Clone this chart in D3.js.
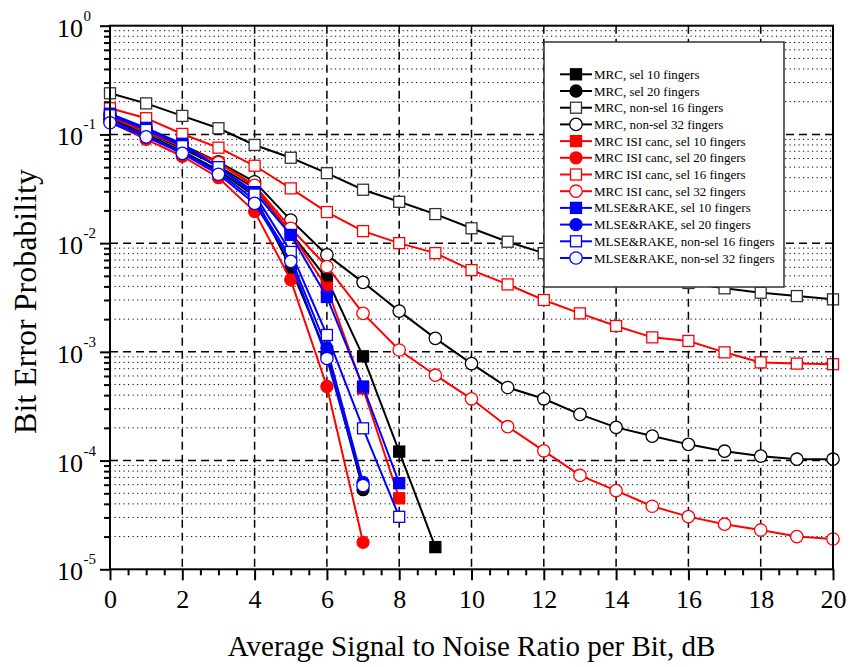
<!DOCTYPE html>
<html><head><meta charset="utf-8">
<script src="https://cdn.jsdelivr.net/npm/d3@7"></script>
<style>
body{margin:0;background:#fff;}
svg{display:block;font-family:"Liberation Serif","Times New Roman",serif;}
</style></head>
<body><svg id="chart" width="851" height="667"></svg>
<script>
// ---- data ----
const snr = [0,1,2,3,4,5,6,7,8,9,10,11,12,13,14,15,16,17,18,19,20];
const xTicks = [0,2,4,6,8,10,12,14,16,18,20];
const yTickExp = [0,-1,-2,-3,-4,-5];
const seriesNames = [
  "MRC, sel 10 fingers","MRC, sel 20 fingers","MRC, non-sel 16 fingers","MRC, non-sel 32 fingers",
  "MRC ISI canc, sel 10 fingers","MRC ISI canc, sel 20 fingers","MRC ISI canc, sel 16 fingers","MRC ISI canc, sel 32 fingers",
  "MLSE&RAKE, sel 10 fingers","MLSE&RAKE, sel 20 fingers","MLSE&RAKE, non-sel 16 fingers","MLSE&RAKE, non-sel 32 fingers"];
const mrcSel10     = [0.145,0.105,0.074,0.051,0.032,0.0125,0.0047,0.00091,0.000121,1.6e-5];
const mrcSel20     = [0.14,0.1,0.07,0.047,0.027,0.0059,0.00095,5.4e-5];
const mrcNonSel16  = [0.239,0.193,0.148,0.114,0.080,0.061,0.044,0.031,0.024,0.0185,0.0137,0.0103,0.0081,0.0068,0.0057,0.0049,0.0043,0.00384,0.0035,0.00326,0.00304];
const mrcNonSel32  = [0.15,0.11,0.08,0.056,0.0367,0.0163,0.0078,0.00436,0.00237,0.00133,0.00078,0.00047,0.00037,0.000266,0.000202,0.000168,0.000141,0.000122,0.00011,0.000103,0.000103];
const isiSel10     = [0.15,0.108,0.078,0.055,0.033,0.0125,0.0039,0.00046,4.5e-5];
const isiSel20     = [0.13,0.09,0.063,0.04,0.0195,0.0046,0.00048,1.77e-5];
const isiSel16     = [0.174,0.141,0.101,0.0755,0.0515,0.0319,0.0193,0.0129,0.0100,0.0081,0.00565,0.00417,0.0030,0.00226,0.00173,0.00136,0.00126,0.00099,0.0008,0.00078,0.00077];
const isiSel32     = [0.145,0.105,0.077,0.055,0.034,0.0137,0.0061,0.00226,0.00104,0.00061,0.00037,0.000205,0.000123,7.3e-5,5.3e-5,3.8e-5,3.05e-5,2.6e-5,2.3e-5,2.0e-5,1.9e-5];
const mlseSel10    = [0.155,0.115,0.082,0.05,0.0295,0.0119,0.0032,0.00048,6.2e-5];
const mlseSel20    = [0.135,0.097,0.069,0.045,0.025,0.0073,0.00108,6.3e-5];
const mlseNonSel16 = [0.15,0.11,0.078,0.05,0.028,0.0083,0.00143,0.000198,3.04e-5];
const mlseNonSel32 = [0.128,0.095,0.067,0.043,0.0232,0.0068,0.00087,5.9e-5];
const seriesValues = [mrcSel10,mrcSel20,mrcNonSel16,mrcNonSel32,isiSel10,isiSel20,isiSel16,isiSel32,mlseSel10,mlseSel20,mlseNonSel16,mlseNonSel32];
const seriesColors = ["#000","#000","#000","#000","#f00","#f00","#f00","#f00","#00f","#00f","#00f","#00f"];
const seriesShapes = ["sq","ci","sq","ci","sq","ci","sq","ci","sq","ci","sq","ci"];
const seriesFilled = [true,true,false,false,true,true,false,false,true,true,false,false];

// ---- layout ----
const svg = d3.select("#chart");
const L=110, R=833, T=25.7, B=569.3;
const x = d3.scaleLinear().domain([0,20]).range([L,R]);
const y = d3.scaleLog().domain([1e-5,1]).range([B,T]);

// minor grid (dotted)
const minorVals=[];
for(let e=-5;e<0;e++) for(let m=2;m<=9;m++) minorVals.push(m*Math.pow(10,e));
svg.append("g").selectAll("line").data(minorVals).join("line")
  .attr("x1",L).attr("x2",R).attr("y1",d=>y(d)).attr("y2",d=>y(d))
  .attr("stroke","#000").attr("stroke-width",1).attr("stroke-dasharray","1.2,3.3");
// major grid dashed
svg.append("g").selectAll("line").data([1e-1,1e-2,1e-3,1e-4]).join("line")
  .attr("x1",L).attr("x2",R).attr("y1",d=>y(d)).attr("y2",d=>y(d))
  .attr("stroke","#000").attr("stroke-width",1.5).attr("stroke-dasharray","8,5");
svg.append("g").selectAll("line").data(xTicks.filter(d=>d>0&&d<20)).join("line")
  .attr("x1",d=>x(d)).attr("x2",d=>x(d)).attr("y1",T).attr("y2",B)
  .attr("stroke","#000").attr("stroke-width",1.5).attr("stroke-dasharray","8,5");

// series
const line = d3.line().x((d,i)=>x(snr[i])).y(d=>y(d));
const plot = svg.append("g");
function marker(g, shape, filled, color, cx, cy){
  if(shape==="sq"){
    g.append("rect").attr("x",cx-5.5).attr("y",cy-5.5).attr("width",11).attr("height",11)
      .attr("fill",filled?color:"#fff").attr("stroke",filled?color:(color==="#000"?"#333":color)).attr("stroke-width",1.3);
  } else {
    g.append("circle").attr("cx",cx).attr("cy",cy).attr("r",filled?6:6.2)
      .attr("fill",filled?color:"#fff").attr("stroke",color).attr("stroke-width",1.3);
  }
}
seriesValues.forEach((vals,k)=>{
  const g = plot.append("g");
  g.append("path").datum(vals).attr("d",line).attr("fill","none")
    .attr("stroke",seriesColors[k]).attr("stroke-width",2);
  vals.forEach((v,i)=>marker(g,seriesShapes[k],seriesFilled[k],seriesColors[k],x(snr[i]),y(v)));
});

// axes frame
svg.append("rect").attr("x",L).attr("y",T).attr("width",R-L).attr("height",B-T)
  .attr("fill","none").attr("stroke","#000").attr("stroke-width",2);

// x axis
const xAxis = d3.axisBottom(x).tickValues(xTicks).tickSize(11).tickFormat(d3.format("d"));
const gx = svg.append("g").attr("transform",`translate(0,${B})`).call(xAxis);
gx.select(".domain").remove();
gx.selectAll(".tick line").attr("stroke-width",2);
gx.selectAll(".tick text").attr("font-size",26).attr("font-family","Liberation Serif").attr("dy",0).attr("y",39);
const xMinor = d3.axisBottom(x).tickValues(d3.range(0,20.01,0.5).filter(d=>d%2!==0)).tickSize(6).tickFormat("");
const gxm = svg.append("g").attr("transform",`translate(0,${B})`).call(xMinor);
gxm.select(".domain").remove(); gxm.selectAll(".tick line").attr("stroke-width",2);

// y axis
const yMajorVals = yTickExp.map(e=>Math.pow(10,e));
const yAxis = d3.axisLeft(y).tickValues(yMajorVals).tickSize(10).tickFormat("");
const gy = svg.append("g").attr("transform",`translate(${L},0)`).call(yAxis);
gy.select(".domain").remove(); gy.selectAll(".tick line").attr("stroke-width",2);
const yMinor = d3.axisLeft(y).tickValues(minorVals).tickSize(6).tickFormat("");
const gym = svg.append("g").attr("transform",`translate(${L},0)`).call(yMinor);
gym.select(".domain").remove(); gym.selectAll(".tick line").attr("stroke-width",2);
const yl = svg.append("g").selectAll("g").data(yTickExp).join("g")
  .attr("transform",e=>`translate(0,${y(Math.pow(10,e))})`);
yl.append("text").attr("x",83).attr("y",11).attr("text-anchor","end").attr("font-size",26).text("10");
yl.append("text").attr("x",83.5).attr("y",-5).attr("text-anchor","start").attr("font-size",15).text(e=>String(e));

// titles
svg.append("text").attr("x",(L+R)/2).attr("y",656).attr("text-anchor","middle").attr("font-size",29)
  .text("Average Signal to Noise Ratio per Bit, dB");
svg.append("text").attr("transform",`translate(36,${(T+B)/2+4}) rotate(-90)`).attr("text-anchor","middle").attr("font-size",32)
  .text("Bit Error Probability");

// legend
const lg = svg.append("g");
lg.append("rect").attr("x",544).attr("y",42).attr("width",240).attr("height",245)
  .attr("fill","#fff").attr("stroke","#333").attr("stroke-width",1.5);
seriesNames.forEach((name,k)=>{
  const cy = 74.3 + k*16.7;
  lg.append("line").attr("x1",560).attr("x2",592).attr("y1",cy).attr("y2",cy)
    .attr("stroke",seriesColors[k]).attr("stroke-width",2);
  marker(lg,seriesShapes[k],seriesFilled[k],seriesColors[k],576,cy);
  lg.append("text").attr("x",594).attr("y",cy+4.5).attr("font-size",13).text(name);
});
</script></body></html>
